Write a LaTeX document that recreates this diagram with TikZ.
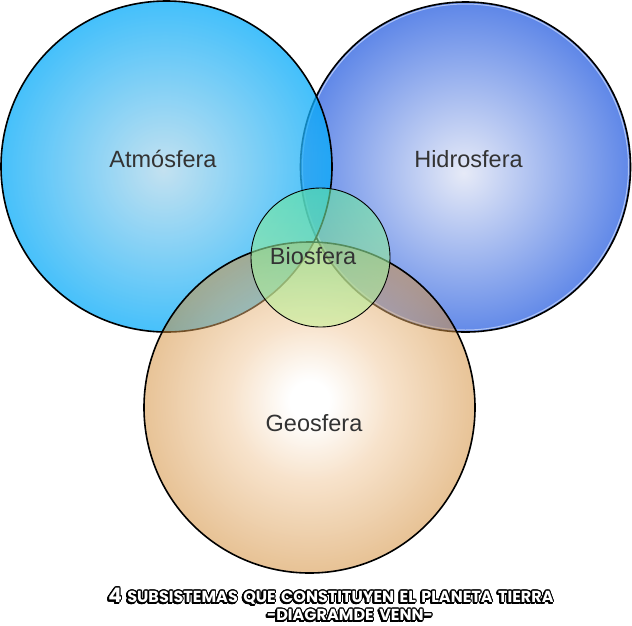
\documentclass[tikz,border=0pt]{standalone}
\usepackage{fontspec}
\setmainfont{Liberation Sans}
\newfontfamily\titlefont[WordSpace=1.6]{Poppins}
\usepackage[copies]{contour}
\contourlength{0.9pt}

\definecolor{atmoin}{RGB}{175,215,235}
\definecolor{atmoout}{RGB}{7,171,249}
\definecolor{hidroin}{RGB}{230,234,247}
\definecolor{hidroout}{RGB}{96,136,232}
\definecolor{geomid}{RGB}{240,200,155}
\definecolor{geoout}{RGB}{210,140,55}
\definecolor{biotop}{RGB}{100,230,160}
\definecolor{biobottom}{RGB}{200,240,150}
\definecolor{namegray}{RGB}{51,51,51}

\pgfdeclareradialshading{atmoshade}{\pgfpoint{-0.5bp}{-0.5bp}}{color(0bp)=(atmoin); color(25bp)=(atmoout); color(50bp)=(atmoout)}
\pgfdeclareradialshading{hidroshade}{\pgfpoint{-0.3bp}{-0.9bp}}{color(0bp)=(hidroin); color(25bp)=(hidroout); color(50bp)=(hidroout)}
\pgfdeclareradialshading{geoshade}{\pgfpoint{0bp}{1.1bp}}{color(0bp)=(white); color(3bp)=(white); color(12bp)=(geomid); color(25bp)=(geoout); color(50bp)=(geoout)}

\newcommand{\shadowtitle}[1]{%
  \makebox[0pt][l]{\hspace*{-1pt}\raisebox{-1.5pt}{\contour{black}{#1}}}%
  \contour{black}{\textcolor{white}{#1}}}

\tikzset{
  ring/.style={draw=black, line width=1.6pt},
  spherename/.style={font=\fontsize{23.5}{28}\selectfont, text=namegray, anchor=base, inner sep=0pt},
  titletext/.style={font=\titlefont\bfseries\fontsize{16}{16}\selectfont, inner sep=0pt}
}

\begin{document}
\begin{tikzpicture}[x=1pt, y=-1pt]
    \useasboundingbox (0,0) rectangle (632,625);

    \coordinate (atmoc) at (166.5,166.5);
    \coordinate (hidroc) at (465.5,167);
    \coordinate (geoc) at (309.5,407.5);
    \coordinate (bioc) at (320.5,257.5);

    % Hidrosfera at the back
    \shade[shading=hidroshade] (hidroc) circle[radius=165pt];
    \draw[white, opacity=.5, line width=1pt] (hidroc) circle[radius=163pt];
    \draw[ring] (hidroc) circle[radius=165pt];

    % Atmosfera
    \shade[shading=atmoshade, opacity=.75] (atmoc) circle[radius=165.5pt];
    \draw[ring] (atmoc) circle[radius=165.5pt];

    % Geosfera
    \shade[shading=geoshade, opacity=.52] (geoc) circle[radius=165.5pt];
    \draw[ring] (geoc) circle[radius=165.5pt];

    % Biosfera on top
    \shade[top color=biotop, bottom color=biobottom, opacity=.6] (bioc) circle[radius=69.5pt];
    \draw[black, line width=0.9pt] (bioc) circle[radius=69.5pt];

    \node[spherename] (atmo) at (163,167) {Atmósfera};
    \node[spherename] (hidro) at (468.5,167) {Hidrosfera};
    \node[spherename] (geo) at (314,431) {Geosfera};
    \node[spherename] (bio) at (313,264) {Biosfera};

    \node[titletext] (title) at (331,597) {\shadowtitle{{\fontsize{20}{20}\selectfont 4} SUBSISTEMAS QUE CONSTITUYEN EL PLANETA TIERRA}};
    \node[titletext] (subtitle) at (350,616) {\shadowtitle{-DIAGRAMDE VENN-}};
\end{tikzpicture}
\end{document}
